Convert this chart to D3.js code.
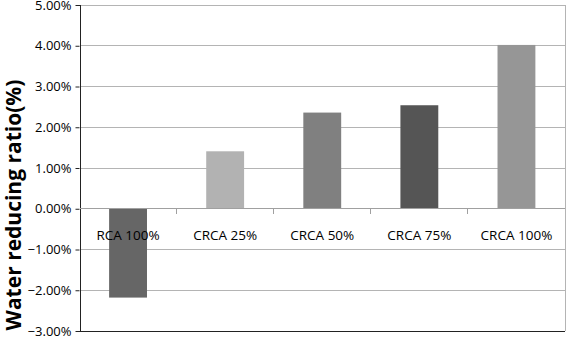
<!DOCTYPE html>
<html><head><meta charset="utf-8">
<script src="https://cdn.jsdelivr.net/npm/d3@7"></script>
<style>body{margin:0;background:#fff}svg{display:block}</style>
</head><body>
<script>
const categories = ["RCA 100%","CRCA 25%","CRCA 50%","CRCA 75%","CRCA 100%"];
const values = [-2.18, 1.41, 2.36, 2.54, 4.02];
const barColors = ["#666666","#b2b2b2","#808080","#555555","#969696"];
const yTicks = [-3,-2,-1,0,1,2,3,4,5];
const yLabel = "Water reducing ratio(%)";

const W = 567, H = 337;
const m = {left:79.5, right:2, top:5, bottom:6};
const svg = d3.select("body").append("svg").attr("width",W).attr("height",H);
const font = "'Open Sans', sans-serif";

const x = d3.scaleBand().domain(categories).range([m.left, W-m.right]).paddingInner(0.61).paddingOuter(0.305);
const y = d3.scaleLinear().domain([-3,5]).range([H-m.bottom, m.top]);

// gridlines
svg.append("g").selectAll("line").data(yTicks).join("line")
  .attr("x1", m.left).attr("x2", W-m.right)
  .attr("y1", d=>y(d)).attr("y2", d=>y(d))
  .attr("stroke","#b4b4b4").attr("stroke-width",1).attr("shape-rendering","crispEdges");
// right border
svg.append("line").attr("x1",W-m.right).attr("x2",W-m.right).attr("y1",y(5)).attr("y2",y(-3))
  .attr("stroke","#b4b4b4").attr("shape-rendering","crispEdges");

// bars
svg.append("g").selectAll("rect").data(values).join("rect")
  .attr("x",(d,i)=>x(categories[i]))
  .attr("width",x.bandwidth())
  .attr("y",d=>y(Math.max(0,d)))
  .attr("height",d=>Math.abs(y(d)-y(0)))
  .attr("fill",(d,i)=>barColors[i]);

// y axis
const yAxis = d3.axisLeft(y).tickValues(yTicks).tickSize(4).tickFormat(d=>d3.format(".2f")(d)+"%");
const gy = svg.append("g").attr("transform",`translate(${m.left},0)`).call(yAxis);
gy.select(".domain").attr("stroke","#222").attr("shape-rendering","crispEdges");
gy.selectAll(".tick line").attr("stroke","#222");
gy.selectAll("text").attr("font-family",font).attr("font-size",13).attr("fill","#000").attr("x",-8);

// bottom axis line
svg.append("line").attr("x1",m.left).attr("x2",W-m.right).attr("y1",y(-3)).attr("y2",y(-3))
  .attr("stroke","#222").attr("shape-rendering","crispEdges");

// x axis at zero
const xAxisG = svg.append("g").attr("transform",`translate(0,${y(0)})`);
xAxisG.append("line").attr("x1",m.left).attr("x2",W-m.right).attr("stroke","#a0a0a0").attr("shape-rendering","crispEdges");
xAxisG.selectAll(".bt").data(categories.slice(1)).join("line").attr("class","bt")
  .attr("x1",c=>x(c)-x.step()*x.paddingOuter()).attr("x2",c=>x(c)-x.step()*x.paddingOuter())
  .attr("y1",0).attr("y2",5).attr("stroke","#a0a0a0").attr("shape-rendering","crispEdges");
xAxisG.selectAll("text").data(categories).join("text")
  .attr("x",c=>x(c)+x.bandwidth()/2).attr("y",31)
  .attr("text-anchor","middle").attr("font-family",font).attr("font-size",13.5).attr("fill","#000")
  .text(c=>c);

// y label
svg.append("text").attr("transform",`translate(21,${205}) rotate(-90)`)
  .attr("text-anchor","middle").attr("font-family",font).attr("font-weight","bold").attr("font-size",21)
  .attr("fill","#000").text(yLabel);
</script>
</body></html>
